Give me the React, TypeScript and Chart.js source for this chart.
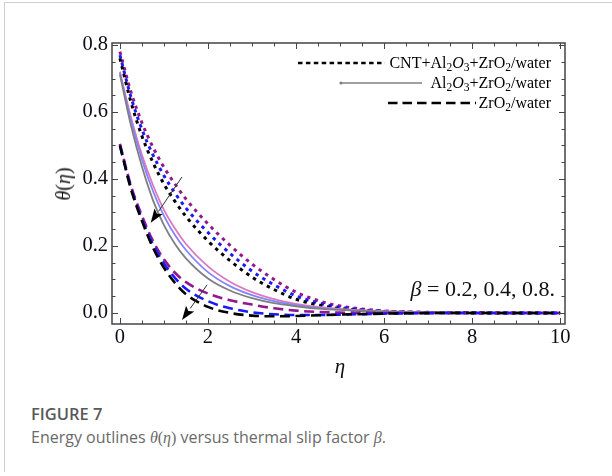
import React, { useEffect, useRef } from "react";
import { Chart, registerables } from "chart.js";

Chart.register(...registerables);

// ---- data ----
const ETA = [0, 0.25, 0.5, 0.75, 1, 1.25, 1.5, 2, 2.5, 3, 3.5, 4, 4.5, 5, 6, 7, 8, 10];

// CNT+Al2O3+ZrO2/water (dotted)
const CNT_B02 = [0.78, 0.66, 0.568, 0.495, 0.435, 0.385, 0.34, 0.266, 0.202, 0.146, 0.1, 0.062, 0.037, 0.021, 0.006, 0.002, 0.0005, 0];
const CNT_B04 = [0.77, 0.645, 0.548, 0.472, 0.41, 0.358, 0.313, 0.24, 0.178, 0.125, 0.084, 0.051, 0.03, 0.017, 0.005, 0.0015, 0.0003, 0];
const CNT_B08 = [0.76, 0.63, 0.528, 0.449, 0.385, 0.333, 0.288, 0.215, 0.156, 0.107, 0.07, 0.041, 0.024, 0.013, 0.004, 0.001, 0.0002, 0];

// Al2O3+ZrO2/water (solid)
const HYB_B02 = [0.72, 0.585, 0.472, 0.382, 0.308, 0.252, 0.206, 0.139, 0.093, 0.062, 0.041, 0.027, 0.018, 0.012, 0.005, 0.002, 0.0005, 0];
const HYB_B04 = [0.716, 0.575, 0.458, 0.364, 0.29, 0.233, 0.188, 0.122, 0.08, 0.053, 0.035, 0.023, 0.015, 0.01, 0.004, 0.0015, 0.0005, 0];
const HYB_B08 = [0.712, 0.56, 0.437, 0.337, 0.262, 0.206, 0.163, 0.103, 0.067, 0.044, 0.029, 0.02, 0.013, 0.009, 0.004, 0.0015, 0.0005, 0];

// ZrO2/water (dashed)
const ZR_B02 = [0.505, 0.38, 0.29, 0.215, 0.16, 0.12, 0.092, 0.058, 0.038, 0.025, 0.014, 0.007, 0.003, 0.001, 0, 0, 0, 0];
const ZR_B04 = [0.5, 0.375, 0.28, 0.205, 0.148, 0.105, 0.072, 0.035, 0.014, 0.002, -0.004, -0.006, -0.006, -0.005, -0.002, -0.0005, 0, 0];
const ZR_B08 = [0.5, 0.37, 0.275, 0.195, 0.135, 0.09, 0.056, 0.018, 0.0, -0.008, -0.01, -0.009, -0.007, -0.005, -0.002, -0.0005, 0, 0];

const X_TICKS = [0, 2, 4, 6, 8, 10];
const Y_TICKS = [0, 0.2, 0.4, 0.6, 0.8];
const X_RANGE = [-0.18, 10.11];
const Y_RANGE = [-0.033, 0.806];

// arrows in data coordinates: [eta, theta]
const ARROW_UPPER = { from: [1.41, 0.406], to: [0.7, 0.269] };
const ARROW_LOWER = { from: [1.98, 0.084], to: [1.41, -0.021] };

// ---- styles ----
const PURPLE = "#93168f";
const BLUE = "#1a1aff";
const BLACK = "#000000";
const DOT = [3.4, 4.6];
const DASH = [10, 5.5];

function pts(vals: number[]) {
  return ETA.map((x, i) => ({ x, y: vals[i] }));
}

const DATASETS = [
  { data: pts(ZR_B08), borderColor: BLACK, borderDash: DASH, borderWidth: 2.6 },
  { data: pts(ZR_B04), borderColor: BLUE, borderDash: DASH, borderWidth: 2.6 },
  { data: pts(ZR_B02), borderColor: PURPLE, borderDash: DASH, borderWidth: 2.6 },
  { data: pts(HYB_B08), borderColor: "#7f7f7f", borderDash: [], borderWidth: 1.8 },
  { data: pts(HYB_B04), borderColor: "#8484ff", borderDash: [], borderWidth: 1.8 },
  { data: pts(HYB_B02), borderColor: "#dd78bf", borderDash: [], borderWidth: 1.8 },
  { data: pts(CNT_B08), borderColor: BLACK, borderDash: DOT, borderWidth: 3 },
  { data: pts(CNT_B04), borderColor: BLUE, borderDash: DOT, borderWidth: 3 },
  { data: pts(CNT_B02), borderColor: PURPLE, borderDash: DOT, borderWidth: 3 },
];

function drawArrow(ctx: CanvasRenderingContext2D, x1: number, y1: number, x2: number, y2: number) {
  const ang = Math.atan2(y2 - y1, x2 - x1);
  const len = 14;
  const hw = 5;
  const bx = x2 - len * Math.cos(ang);
  const by = y2 - len * Math.sin(ang);
  ctx.strokeStyle = "#333";
  ctx.lineWidth = 1;
  ctx.setLineDash([]);
  ctx.beginPath();
  ctx.moveTo(x1, y1);
  ctx.lineTo(bx, by);
  ctx.stroke();
  ctx.fillStyle = "#000";
  ctx.beginPath();
  ctx.moveTo(x2, y2);
  ctx.lineTo(bx - hw * Math.sin(ang), by + hw * Math.cos(ang));
  ctx.lineTo(bx + 3 * Math.cos(ang), by + 3 * Math.sin(ang));
  ctx.lineTo(bx + hw * Math.sin(ang), by - hw * Math.cos(ang));
  ctx.closePath();
  ctx.fill();
}

const framePlugin = {
  id: "mmaFrame",
  afterDatasetsDraw(chart: any) {
    const { ctx, chartArea: a, scales } = chart;
    const xs = scales.x;
    const ys = scales.y;
    ctx.save();
    ctx.setLineDash([]);
    ctx.strokeStyle = "#444";
    ctx.lineWidth = 1.5;
    ctx.strokeRect(a.left, a.top, a.right - a.left, a.bottom - a.top);

    ctx.lineWidth = 1;
    ctx.strokeStyle = "#444";
    // x ticks
    for (let i = 0; i <= 20; i++) {
      const v = i * 0.5;
      const px = Math.round(xs.getPixelForValue(v)) + 0.5;
      const major = i % 4 === 0;
      const L = major ? 6 : 3.5;
      ctx.beginPath();
      ctx.moveTo(px, a.bottom);
      ctx.lineTo(px, a.bottom - L);
      ctx.moveTo(px, a.top);
      ctx.lineTo(px, a.top + L);
      ctx.stroke();
    }
    // y ticks
    for (let i = 0; i <= 16; i++) {
      const v = i * 0.05;
      const py = Math.round(ys.getPixelForValue(v)) + 0.5;
      const major = i % 4 === 0;
      const L = major ? 6 : 3.5;
      ctx.beginPath();
      ctx.moveTo(a.left, py);
      ctx.lineTo(a.left + L, py);
      ctx.moveTo(a.right, py);
      ctx.lineTo(a.right - L, py);
      ctx.stroke();
    }

    // arrows
    for (const ar of [ARROW_UPPER, ARROW_LOWER]) {
      drawArrow(
        ctx,
        xs.getPixelForValue(ar.from[0]),
        ys.getPixelForValue(ar.from[1]),
        xs.getPixelForValue(ar.to[0]),
        ys.getPixelForValue(ar.to[1])
      );
    }

    // legend line samples
    ctx.lineCap = "butt";
    ctx.strokeStyle = "#000";
    ctx.lineWidth = 2.6;
    ctx.setLineDash([4.5, 3.4]);
    ctx.beginPath();
    ctx.moveTo(298, 63);
    ctx.lineTo(385, 63);
    ctx.stroke();

    ctx.setLineDash([]);
    ctx.strokeStyle = "#808080";
    ctx.lineWidth = 1.5;
    ctx.beginPath();
    ctx.moveTo(340, 83);
    ctx.lineTo(422, 83);
    ctx.stroke();
    ctx.fillStyle = "#808080";
    ctx.beginPath();
    ctx.arc(341, 83, 1.6, 0, Math.PI * 2);
    ctx.fill();

    ctx.strokeStyle = "#000";
    ctx.lineWidth = 2.6;
    ctx.setLineDash([9.5, 5]);
    ctx.beginPath();
    ctx.moveTo(388, 103);
    ctx.lineTo(476, 103);
    ctx.stroke();
    ctx.restore();
  },
};

const SERIF = '"Liberation Serif", "Times New Roman", serif';
const SANS = '"Open Sans", "Noto Sans", sans-serif';

const subStyle: React.CSSProperties = { fontSize: "0.72em", verticalAlign: "-0.28em", lineHeight: 0 };

export default function App() {
  const ref = useRef<HTMLCanvasElement | null>(null);

  useEffect(() => {
    if (!ref.current) return;
    const chart = new Chart(ref.current, {
      type: "line",
      data: {
        datasets: DATASETS.map((d) => ({
          ...d,
          pointRadius: 0,
          fill: false,
          cubicInterpolationMode: "monotone" as const,
          borderCapStyle: "butt" as const,
        })),
      },
      options: {
        animation: false,
        responsive: false,
        maintainAspectRatio: false,
        layout: { padding: { left: 0, top: 43, right: 47, bottom: 0 } },
        plugins: { legend: { display: false }, tooltip: { enabled: false } },
        scales: {
          x: {
            type: "linear",
            min: X_RANGE[0],
            max: X_RANGE[1],
            grid: { display: false, drawTicks: false },
            border: { display: false },
            afterBuildTicks: (s: any) => {
              s.ticks = X_TICKS.map((v) => ({ value: v }));
            },
            afterFit: (s: any) => {
              s.height = 56;
            },
            ticks: {
              padding: 1,
              autoSkip: false,
              maxRotation: 0,
              color: "#0d0d1a",
              font: { family: SERIF, size: 20.5 },
              callback: (v: any) => String(v),
            },
          },
          y: {
            type: "linear",
            min: Y_RANGE[0],
            max: Y_RANGE[1],
            grid: { display: false, drawTicks: false },
            border: { display: false },
            afterBuildTicks: (s: any) => {
              s.ticks = Y_TICKS.map((v) => ({ value: v }));
            },
            afterFit: (s: any) => {
              s.width = 112;
            },
            ticks: {
              padding: 4,
              autoSkip: false,
              color: "#0d0d1a",
              font: { family: SERIF, size: 20.5 },
              callback: (v: any) => Number(v).toFixed(1),
            },
          },
        },
      },
      plugins: [framePlugin],
    });
    return () => chart.destroy();
  }, []);

  const legendText: React.CSSProperties = {
    position: "absolute",
    right: 61,
    fontFamily: SERIF,
    fontSize: 16,
    lineHeight: "18px",
    color: "#000",
    whiteSpace: "nowrap",
  };

  return (
    <div
      style={{
        position: "absolute",
        left: 0,
        top: 0,
        width: 612,
        height: 476,
        background: "#fff",
        overflow: "hidden",
      }}
    >
      <div
        style={{
          position: "absolute",
          left: 4,
          top: 2,
          width: 620,
          height: 469,
          borderTop: "1px solid #cfcfcf",
          borderLeft: "1px solid #cfcfcf",
        }}
      />
      <canvas
        ref={ref}
        width={612}
        height={380}
        style={{ position: "absolute", left: 0, top: 0, width: 612, height: 380, display: "block" }}
      />

      {/* legend texts */}
      <div style={{ ...legendText, top: 54 }}>
        CNT+Al<span style={subStyle}>2</span><i>O</i><span style={subStyle}>3</span>+ZrO<span style={subStyle}>2</span>/water
      </div>
      <div style={{ ...legendText, top: 74 }}>
        Al<span style={subStyle}>2</span><i>O</i><span style={subStyle}>3</span>+ZrO<span style={subStyle}>2</span>/water
      </div>
      <div style={{ ...legendText, top: 94 }}>
        ZrO<span style={subStyle}>2</span>/water
      </div>

      {/* beta annotation */}
      <div style={{ position: "absolute", right: 57, top: 277, fontFamily: SERIF, fontSize: 22, lineHeight: "24px", color: "#111", whiteSpace: "nowrap" }}>
        <i>β</i> = 0.2, 0.4, 0.8.
      </div>

      {/* axis titles */}
      <div style={{ position: "absolute", left: 340, top: 366, transform: "translate(-50%,-50%)", fontFamily: SERIF, fontSize: 21, lineHeight: 1, color: "#111" }}>
        <i>η</i>
      </div>
      <div
        style={{
          position: "absolute",
          left: 63,
          top: 184,
          transform: "translate(-50%,-50%) rotate(-90deg)",
          fontFamily: SERIF,
          fontSize: 20,
          lineHeight: 1,
          color: "#111",
          whiteSpace: "nowrap",
        }}
      >
        <i>θ</i>(<i>η</i>)
      </div>

      {/* caption */}
      <div style={{ position: "absolute", left: 31, top: 404, fontFamily: SANS, fontWeight: 600, fontSize: 16.5, lineHeight: "20px", color: "#585858", whiteSpace: "nowrap" }}>
        FIGURE 7
      </div>
      <div style={{ position: "absolute", left: 31, top: 427, fontFamily: SANS, fontSize: 16, lineHeight: "20px", color: "#6a6a6a", whiteSpace: "nowrap" }}>
        Energy outlines <span style={{ fontFamily: SERIF, fontStyle: "italic" }}>θ</span>
        <span style={{ fontFamily: SERIF }}>(</span>
        <span style={{ fontFamily: SERIF, fontStyle: "italic" }}>η</span>
        <span style={{ fontFamily: SERIF }}>)</span> versus thermal slip factor{" "}
        <span style={{ fontFamily: SERIF, fontStyle: "italic" }}>β</span>.
      </div>
    </div>
  );
}
